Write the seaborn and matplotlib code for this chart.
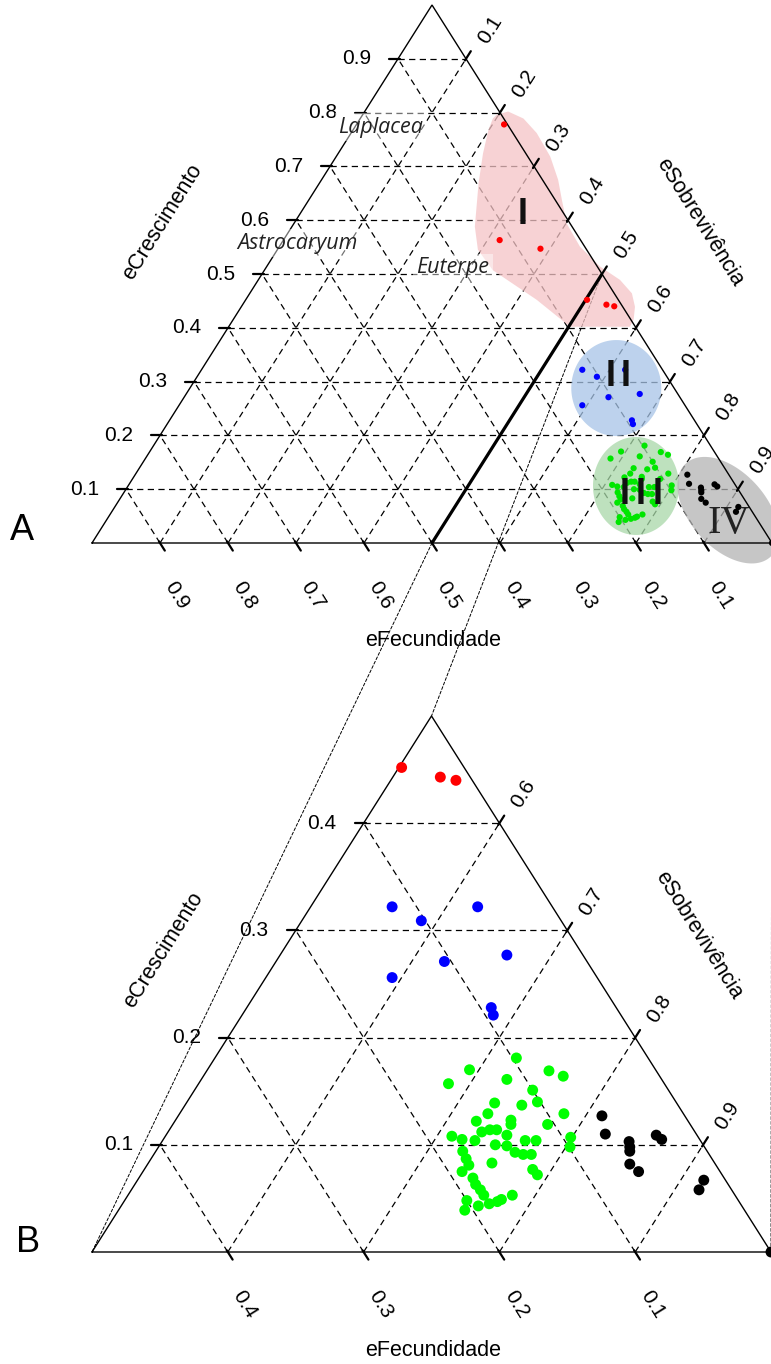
import numpy as np
import pandas as pd
import matplotlib
matplotlib.use("Agg")
import matplotlib.pyplot as plt
import seaborn as sns
from matplotlib.patches import Polygon, ConnectionPatch
from matplotlib.transforms import offset_copy

sns.set_theme(style="white")
plt.rcParams["font.family"] = ["Liberation Sans", "DejaVu Sans"]
plt.rcParams["text.color"] = "black"

# ---------------- data (ternary values: C = eCrescimento, S = eSobrevivência, F = 1-C-S)
red_C = [0.778, 0.563, 0.547, 0.452, 0.443, 0.440]
red_S = [0.217, 0.318, 0.386, 0.502, 0.535, 0.548]

blue_C = [0.322, 0.309, 0.322, 0.277, 0.271, 0.256, 0.228, 0.221]
blue_S = [0.560, 0.588, 0.623, 0.667, 0.624, 0.593, 0.680, 0.685]

green_C = [0.181, 0.170, 0.169, 0.164, 0.157, 0.161, 0.151, 0.140, 0.139, 0.137,
           0.129, 0.129, 0.122, 0.123, 0.119, 0.119, 0.112, 0.114, 0.114, 0.108,
           0.105, 0.104, 0.109, 0.104, 0.104, 0.107, 0.100, 0.099, 0.098, 0.094,
           0.093, 0.091, 0.091, 0.087, 0.081, 0.083, 0.077, 0.072, 0.075, 0.069,
           0.063, 0.058, 0.053, 0.053, 0.048, 0.043, 0.045, 0.047, 0.049, 0.039]
green_S = [0.722, 0.693, 0.752, 0.765, 0.684, 0.725, 0.749, 0.758, 0.727, 0.748,
           0.783, 0.727, 0.722, 0.747, 0.749, 0.776, 0.731, 0.736, 0.741, 0.711,
           0.720, 0.730, 0.751, 0.767, 0.775, 0.799, 0.747, 0.756, 0.803, 0.726,
           0.765, 0.772, 0.778, 0.732, 0.737, 0.753, 0.786, 0.792, 0.735, 0.746,
           0.751, 0.757, 0.762, 0.783, 0.752, 0.763, 0.770, 0.775, 0.777, 0.755]

black_C = [0.127, 0.110, 0.103, 0.098, 0.094, 0.082, 0.075, 0.109, 0.105, 0.067, 0.058, 0.000]
black_S = [0.812, 0.823, 0.844, 0.847, 0.849, 0.855, 0.865, 0.861, 0.867, 0.917, 0.918, 1.000]

# group I outline (ternary C, S)
regionI_C = [0.796, 0.802, 0.789, 0.762, 0.718, 0.675, 0.638, 0.594, 0.551, 0.514, 0.489,
             0.464, 0.439, 0.415, 0.402, 0.402, 0.452, 0.507, 0.545, 0.588, 0.669, 0.724,
             0.768, 0.789]
regionI_S = [0.197, 0.211, 0.240, 0.273, 0.315, 0.348, 0.372, 0.401, 0.442, 0.490, 0.532,
             0.562, 0.579, 0.589, 0.590, 0.502, 0.428, 0.336, 0.295, 0.269, 0.234, 0.213,
             0.199, 0.195]
# group II-IV ellipse centres (ternary C, S)
region_C = [0.288, 0.106, 0.061]
region_S = [0.627, 0.747, 0.905]

ticksA = [0.1, 0.2, 0.3, 0.4, 0.5, 0.6, 0.7, 0.8, 0.9]
ticksB_CF = [0.1, 0.2, 0.3, 0.4]
ticksB_S = [0.6, 0.7, 0.8, 0.9]

axis_titles = ["eCrescimento", "eSobrevivência", "eFecundidade"]
species = ["Laplacea", "Astrocaryum", "Euterpe"]
group_labels = ["I", "II", "III", "IV"]

# ---------------- figure
W, H, DPI = 771, 1364, 100
fig = plt.figure(figsize=(W / DPI, H / DPI), dpi=DPI)
fig.patch.set_facecolor("white")


def add_panel(l, t, r, b, xlim, ylim):
    ax = fig.add_axes([l / W, 1 - b / H, (r - l) / W, (b - t) / H])
    ax.set_xlim(*xlim)
    ax.set_ylim(*ylim)
    ax.axis("off")
    return ax


axA = add_panel(92, 5, 772, 543, (0, 1), (0, 1))
axB = add_panel(92, 716, 771, 1252, (0.5, 1), (0, 0.5))
scaleA = (680.0, 538.0)
scaleB = (1358.0, 1072.0)


def txy(C, S):
    C = np.asarray(C, float)
    S = np.asarray(S, float)
    return S + C / 2.0, C


def pt(C, S):
    x, y = txy([C], [S])
    return x[0], y[0]


def off(ax, dx, dy):
    return offset_copy(ax.transData, fig=fig, x=dx, y=dy, units="dots")


DASH = (0, (5.0, 3.5))


def draw_frame(ax, smin, scale, tC, tF, tS, lw_edge=1.0):
    sx, sy = scale
    # grid
    for c in tC:
        (x0, y0), (x1, y1) = pt(c, smin), pt(c, 1 - c)
        ax.plot([x0, x1], [y0, y1], color="black", lw=0.9, ls=DASH, zorder=1)
    for f in tF:
        (x0, y0), (x1, y1) = pt(0, 1 - f), pt(1 - f - smin, smin)
        ax.plot([x0, x1], [y0, y1], color="black", lw=0.9, ls=DASH, zorder=1)
    for s in tS:
        (x0, y0), (x1, y1) = pt(0, s), pt(1 - s, s)
        ax.plot([x0, x1], [y0, y1], color="black", lw=0.9, ls=DASH, zorder=1)
    # edges
    vx, vy = txy([0, 1 - smin, 0, 0], [smin, smin, 1, smin])
    ax.plot(vx, vy, color="black", lw=lw_edge, zorder=4, solid_joinstyle="miter",
            clip_on=False)
    # ticks
    kd = np.hypot(0.5 * sx, sy)
    for c in tC:
        x0, y0 = pt(c, smin)
        ax.plot([x0 - 9 / sx, x0 + 2 / sx], [y0, y0], color="black", lw=1.6,
                zorder=5, clip_on=False)
        ax.text(x0, y0, f"{c:.1f}", transform=off(ax, -27, 0), ha="right",
                va="center", fontsize=15, color="black", clip_on=False)
    for f in tF:
        x0, y0 = pt(0, 1 - f)
        a, b = -2 / kd, 9 / kd
        ax.plot([x0 + 0.5 * a, x0 + 0.5 * b], [y0 - a, y0 - b], color="black",
                lw=1.6, zorder=5, clip_on=False)
        ax.text(x0, y0, f"{f:.1f}", transform=off(ax, 17, -52), ha="center",
                va="center", rotation=-58, fontsize=15, color="black", clip_on=False)
    for s in tS:
        x0, y0 = pt(1 - s, s)
        a, b = -2 / kd, 9 / kd
        ax.plot([x0 + 0.5 * a, x0 + 0.5 * b], [y0 + a, y0 + b], color="black",
                lw=1.6, zorder=5, clip_on=False)
        ax.text(x0, y0, f"{s:.1f}", transform=off(ax, 24, 29), ha="center",
                va="center", rotation=58, fontsize=15, color="black", clip_on=False)


draw_frame(axA, 0.0, scaleA, ticksA, ticksA, ticksA)
draw_frame(axB, 0.5, scaleB, ticksB_CF, ticksB_CF, ticksB_S)

# thick S = 0.5 line in panel A
(x0, y0), (x1, y1) = pt(0, 0.5), pt(0.5, 0.5)
axA.plot([x0, x1], [y0, y1], color="black", lw=2.3, zorder=4, solid_capstyle="butt")


# ---------------- group regions (panel A)
def ellipse_poly(scale, C, S, rx, ry, ang):
    sx, sy = scale
    cx, cy = pt(C, S)
    t = np.linspace(0, 2 * np.pi, 200)
    ex, ey = rx * np.cos(t), ry * np.sin(t)
    a = np.deg2rad(ang)
    px = ex * np.cos(a) - ey * np.sin(a)
    py = ex * np.sin(a) + ey * np.cos(a)
    return np.column_stack([cx + px / sx, cy + py / sy])


ix, iy = txy(regionI_C, regionI_S)
axA.add_patch(Polygon(np.column_stack([ix, iy]), closed=True, facecolor="#f5c4c6",
                      edgecolor="none", alpha=0.75, zorder=2, joinstyle="round"))
ell_specs = [(45, 48, 0, "#a7c4e7"), (43, 49, 0, "#a8d8a8"), (63, 38, -48, "#b4b4b4")]
for (C, S), (rx, ry, ang, col) in zip(zip(region_C, region_S), ell_specs):
    axA.add_patch(Polygon(ellipse_poly(scaleA, C, S, rx, ry, ang), closed=True,
                          facecolor=col, edgecolor="none", alpha=0.75, zorder=2,
                          clip_on=False))

# ---------------- points
groups = (["I"] * len(red_C) + ["II"] * len(blue_C) + ["III"] * len(green_C)
          + ["IV"] * len(black_C))
Cs = red_C + blue_C + green_C + black_C
Ss = red_S + blue_S + green_S + black_S
px_, py_ = txy(Cs, Ss)
df = pd.DataFrame({"x": px_, "y": py_, "C": Cs, "S": Ss, "grupo": groups})
pal = {"I": "#ff0000", "II": "#0000ff", "III": "#00e600", "IV": "#000000"}
palB = {"I": "#ff0000", "II": "#0000ff", "III": "#00ff00", "IV": "#000000"}

sns.scatterplot(data=df, x="x", y="y", hue="grupo", palette=pal, s=20,
                edgecolor="none", legend=False, ax=axA, zorder=6, clip_on=False)
dfB = df[df["S"] >= 0.5]
sns.scatterplot(data=dfB, x="x", y="y", hue="grupo", palette=palB, s=62,
                edgecolor="none", legend=False, ax=axB, zorder=6, clip_on=False)
for ax, xl, yl in ((axA, (0, 1), (0, 1)), (axB, (0.5, 1), (0, 0.5))):
    ax.set_xlim(*xl)
    ax.set_ylim(*yl)
    ax.axis("off")


# ---------------- texts
def ftext(px, py, s, **kw):
    fig.text(px / W, 1 - py / H, s, ha="center", va="center", **kw)


ftext(163, 222, axis_titles[0], rotation=58, fontsize=15.5)
ftext(700, 222, axis_titles[1], rotation=-58, fontsize=15.5)
ftext(433, 640, axis_titles[2], fontsize=15.5)
ftext(164, 950, axis_titles[0], rotation=58, fontsize=15.5)
ftext(699, 935, axis_titles[1], rotation=-58, fontsize=15.5)
ftext(433, 1350, axis_titles[2], fontsize=15.5)

ftext(22, 530, "A", fontsize=26)
ftext(28, 1243, "B", fontsize=26)

sp_kw = dict(fontsize=15.5, style="italic", family=["Open Sans", "DejaVu Sans"],
             color="#222222",
             bbox=dict(boxstyle="square,pad=0.15", facecolor="white", alpha=0.45,
                       edgecolor="none"))
ftext(381, 127, species[0], **sp_kw)
ftext(297, 243, species[1], **sp_kw)
ftext(453, 268, species[2], **sp_kw)


def spaced_label(cx, cy, text, gap, **kw):
    n = len(text)
    for i, ch in enumerate(text):
        ftext(cx + (i - (n - 1) / 2) * gap, cy, ch, **kw)


gl_kw = dict(fontsize=26, fontweight="bold", family=["Liberation Sans"], color="#111111")
spaced_label(523, 215, group_labels[0], 15, **gl_kw)
spaced_label(618, 376, group_labels[1], 15, **gl_kw)
spaced_label(641, 494, group_labels[2], 16.5, **gl_kw)
ftext(729, 524, group_labels[3], fontsize=29, family=["Liberation Serif"],
      color="#222222")

# ---------------- connecting dotted lines between the panels
for (xa, ya), (xb, yb) in [((0.5, 0.0), (0.5, 0.0)), ((0.75, 0.5), (0.75, 0.5)),
                           ((1.0, 0.0), (1.0, 0.0))]:
    cp = ConnectionPatch(xyA=(xa, ya), coordsA=axA.transData, xyB=(xb, yb),
                         coordsB=axB.transData, color="black", lw=0.7,
                         linestyle=(0, (3, 2)), zorder=0)
    fig.add_artist(cp)

fig.savefig("out.png", dpi=DPI, facecolor="white")
